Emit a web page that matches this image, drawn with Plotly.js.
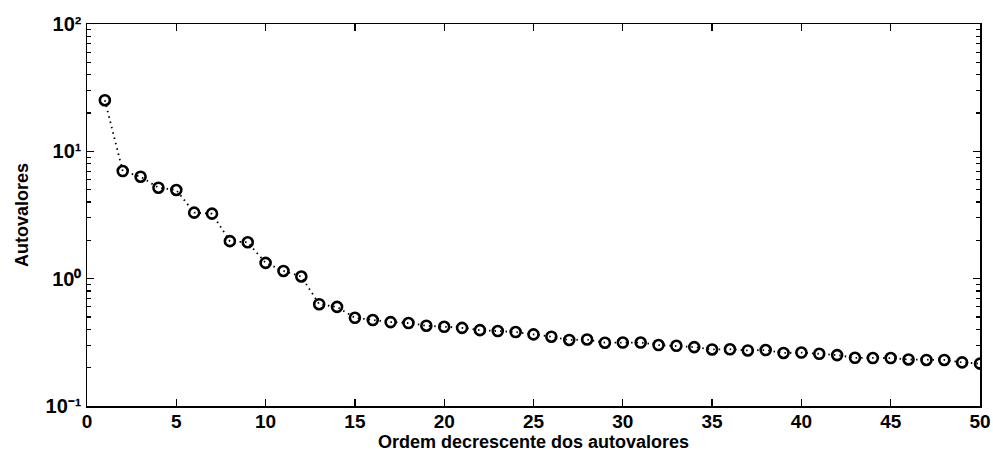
<!DOCTYPE html>
<html>
<head>
<meta charset="utf-8">
<script src="https://cdn.plot.ly/plotly-3.0.1.min.js"></script>
<style>
  html, body { margin: 0; padding: 0; background: #fff; }
  #chart { width: 993px; height: 455px; }
</style>
</head>
<body>
<div id="chart"></div>
<script>
// Eigenvalue order (1..50) and eigenvalues, sorted in decreasing order
const ordem = [
  1, 2, 3, 4, 5, 6, 7, 8, 9, 10,
  11, 12, 13, 14, 15, 16, 17, 18, 19, 20,
  21, 22, 23, 24, 25, 26, 27, 28, 29, 30,
  31, 32, 33, 34, 35, 36, 37, 38, 39, 40,
  41, 42, 43, 44, 45, 46, 47, 48, 49, 50
];
const autovalores = [
  25.2, 7.00, 6.32, 5.18, 4.97, 3.30, 3.24, 1.97, 1.93, 1.33,
  1.15, 1.04, 0.63, 0.60, 0.493, 0.473, 0.456, 0.448, 0.427, 0.419,
  0.411, 0.394, 0.388, 0.381, 0.365, 0.350, 0.330, 0.333, 0.314, 0.315,
  0.315, 0.301, 0.297, 0.290, 0.278, 0.279, 0.273, 0.275, 0.261, 0.263,
  0.257, 0.251, 0.239, 0.238, 0.238, 0.232, 0.230, 0.230, 0.220, 0.215
];

// Axis ticks
const xTicks = [0, 5, 10, 15, 20, 25, 30, 35, 40, 45, 50];
const yTickVals = [0.1, 1, 10, 100];
const yTickText = ['10\u207B\u00B9', '10\u2070', '10\u00B9', '10\u00B2'];

// Minor log ticks at 2..9 within each decade
const yMinorVals = [];
[0.1, 1, 10].forEach(function (d) {
  for (let k = 2; k <= 9; k++) yMinorVals.push(+(k * d).toPrecision(3));
});

const tickFont = { family: 'Liberation Sans, Arial, sans-serif', size: 20, color: '#000', weight: 'bold' };
const titleFont = { family: 'Liberation Sans, Arial, sans-serif', size: 18, color: '#000', weight: 'bold' };

const trace = {
  x: ordem,
  y: autovalores,
  type: 'scatter',
  mode: 'lines+markers',
  line: { color: '#000', width: 1.8, dash: '1.5px,4px' },
  marker: { symbol: 'circle-open', size: 10, color: '#000', line: { color: '#000', width: 2.6 } },
  hoverinfo: 'x+y'
};

const axisCommon = {
  showline: true,
  linecolor: '#000',
  linewidth: 1.5,
  mirror: 'ticks',
  ticks: 'inside',
  tickcolor: '#000',
  tickwidth: 1.3,
  ticklen: 7,
  showgrid: false,
  zeroline: false,
  tickfont: tickFont
};

const layout = {
  width: 993,
  height: 455,
  margin: { l: 87, r: 13, t: 24, b: 49 },
  paper_bgcolor: '#fff',
  plot_bgcolor: '#fff',
  showlegend: false,
  font: tickFont,
  xaxis: Object.assign({}, axisCommon, {
    range: [0, 50],
    tickvals: xTicks,
    ticktext: xTicks.map(String),
    tickfont: Object.assign({}, tickFont, { size: 19 }),
    ticklabelstandoff: -2,
    title: { text: 'Ordem decrescente dos autovalores', font: titleFont, standoff: 4 }
  }),
  yaxis: Object.assign({}, axisCommon, {
    type: 'log',
    range: [-1, 2],
    tickvals: yTickVals,
    ticktext: yTickText,
    minor: { tickmode: 'array', tickvals: yMinorVals, ticks: 'inside', ticklen: 4, tickcolor: '#000', tickwidth: 1.1, showgrid: false },
    title: { text: 'Autovalores', font: titleFont, standoff: 12 }
  })
};

Plotly.newPlot('chart', [trace], layout, { displayModeBar: false, staticPlot: true });
</script>
</body>
</html>
